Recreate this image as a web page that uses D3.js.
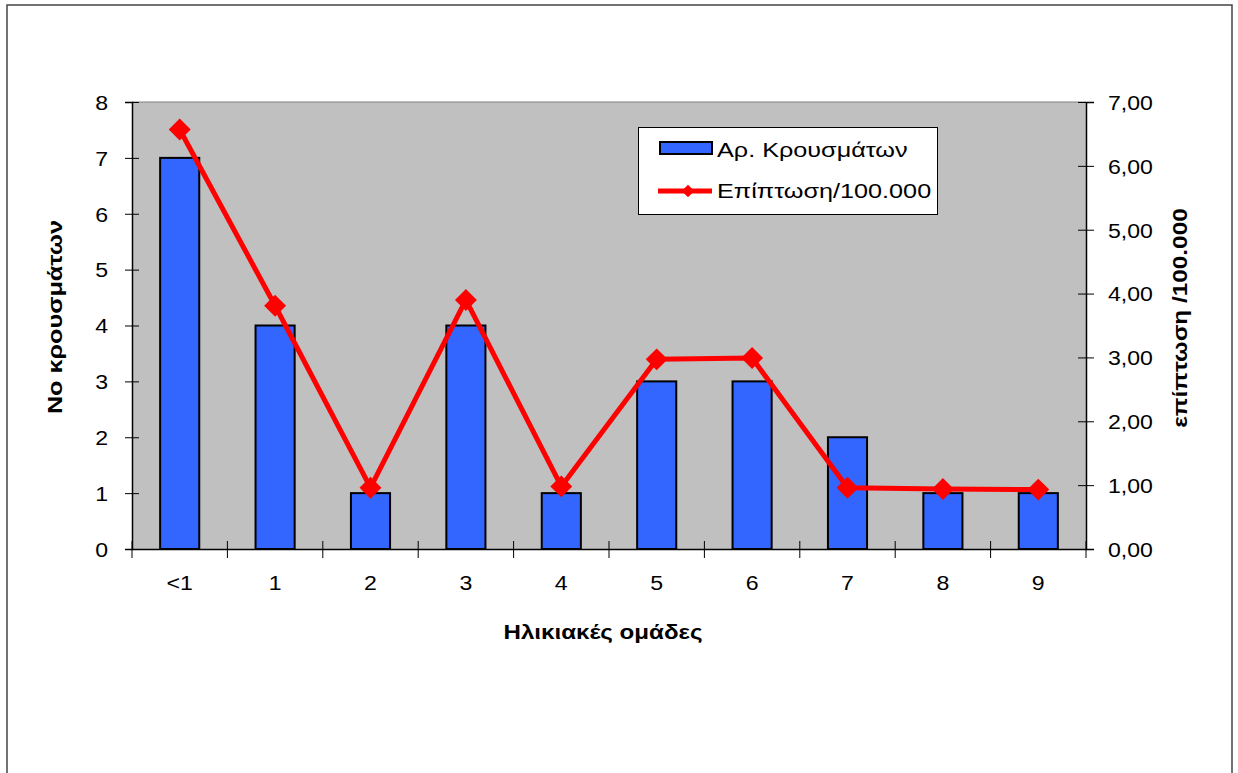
<!DOCTYPE html>
<html>
<head>
<meta charset="utf-8">
<script src="https://cdn.jsdelivr.net/npm/d3@7"></script>
<style>
  html, body { margin: 0; padding: 0; background: #fff; }
  svg { display: block; }
  text { font-family: "Liberation Sans", Arial, sans-serif; fill: #000; }
</style>
</head>
<body>
<svg id="chart" width="1238" height="773"></svg>
<script>
// Age groups and their case counts / incidence per 100,000
const categories = ["<1", "1", "2", "3", "4", "5", "6", "7", "8", "9"];
const cases = [7, 4, 1, 4, 1, 3, 3, 2, 1, 1];
const incidence = [6.57, 3.81, 0.96, 3.90, 0.98, 2.97, 2.99, 0.96, 0.94, 0.93];
const leftTicks = [0, 1, 2, 3, 4, 5, 6, 7, 8];
const rightTicks = [0, 1, 2, 3, 4, 5, 6, 7];

const svg = d3.select("#chart");
const plot = { left: 132, right: 1086, top: 102, bottom: 549 };

// widen glyphs along the text direction, keeping the anchor point fixed
function widen(sel, sx) {
  sel.each(function () {
    const t = d3.select(this);
    const x = +t.attr("x") || 0, y = +t.attr("y") || 0;
    const prev = t.attr("transform") || "";
    t.attr("x", 0).attr("y", 0)
      .attr("transform", `${prev} translate(${x},${y}) scale(${sx},1)`);
  });
}

// outer frame
svg.append("rect")
  .attr("x", 7).attr("y", 5)
  .attr("width", 1225).attr("height", 800)
  .attr("fill", "none").attr("stroke", "#444").attr("stroke-width", 1.5);

const x = d3.scaleBand().domain(categories)
  .range([plot.left, plot.right]).paddingInner(0.59).paddingOuter(0.295);
const xb = d3.scaleBand().domain(categories).range([plot.left, plot.right]);
const yL = d3.scaleLinear().domain([0, 8]).range([plot.bottom, plot.top]);
const yR = d3.scaleLinear().domain([0, 7]).range([plot.bottom, plot.top]);

// plot background
svg.append("rect")
  .attr("x", plot.left).attr("y", plot.top)
  .attr("width", plot.right - plot.left).attr("height", plot.bottom - plot.top)
  .attr("fill", "#C0C0C0");
svg.append("line")
  .attr("x1", plot.left).attr("x2", plot.right)
  .attr("y1", plot.top).attr("y2", plot.top)
  .attr("stroke", "#808080").attr("stroke-width", 1);

// bars
svg.append("g").selectAll("rect").data(cases).join("rect")
  .attr("x", (d, i) => x(categories[i]))
  .attr("y", d => yL(d))
  .attr("width", x.bandwidth())
  .attr("height", d => yL(0) - yL(d))
  .attr("fill", "#3366FF").attr("stroke", "#000").attr("stroke-width", 2);

// left axis
const gL = svg.append("g").attr("transform", `translate(${plot.left},0)`)
  .call(d3.axisLeft(yL).tickValues(leftTicks).tickSize(7).tickPadding(17).tickFormat(d3.format("d")));
gL.selectAll(".tick line").attr("x1", 7).attr("stroke", "#000");
gL.select(".domain").attr("stroke", "#000").attr("stroke-width", 1.5);
gL.selectAll(".tick text").style("font-size", "21px").attr("dy", "0.35em").call(widen, 1.1);

// right axis
const fmtR = d => d3.format(".2f")(d).replace(".", ",");
const gR = svg.append("g").attr("transform", `translate(${plot.right},0)`)
  .call(d3.axisRight(yR).tickValues(rightTicks).tickSize(8).tickPadding(14).tickFormat(fmtR));
gR.selectAll(".tick line").attr("x1", -8).attr("stroke", "#000");
gR.select(".domain").attr("stroke", "#000").attr("stroke-width", 1.5);
gR.selectAll(".tick text").style("font-size", "21px").attr("dy", "0.35em").call(widen, 1.1);

// bottom axis with ticks at category boundaries
const gB = svg.append("g").attr("transform", `translate(0,${plot.bottom})`)
  .call(d3.axisBottom(x).tickSize(0).tickPadding(26));
gB.select(".domain").attr("stroke", "#000").attr("stroke-width", 1.5);
gB.selectAll(".tick text").style("font-size", "21px").call(widen, 1.1);
const bounds = categories.map(c => xb(c)).concat([plot.right]);
gB.append("g").selectAll("line").data(bounds).join("line")
  .attr("x1", d => d).attr("x2", d => d)
  .attr("y1", -8).attr("y2", 9)
  .attr("stroke", "#000").attr("stroke-width", 1);

// incidence line
const line = d3.line()
  .x((d, i) => x(categories[i]) + x.bandwidth() / 2)
  .y(d => yR(d));
svg.append("path").datum(incidence)
  .attr("d", line).attr("fill", "none")
  .attr("stroke", "#FF0000").attr("stroke-width", 5).attr("stroke-linejoin", "round");
const diamond = d3.symbol().type(d3.symbolSquare).size(240);
svg.append("g").selectAll("path").data(incidence).join("path")
  .attr("d", diamond)
  .attr("transform", (d, i) => `translate(${x(categories[i]) + x.bandwidth() / 2},${yR(d)}) rotate(45)`)
  .attr("fill", "#FF0000");

// axis titles
svg.append("text")
  .attr("transform", "translate(62,317) rotate(-90)")
  .attr("text-anchor", "middle")
  .style("font-size", "21px").style("font-weight", "bold")
  .text("Νο κρουσμάτων").call(widen, 1.2);
svg.append("text")
  .attr("transform", "translate(1187,318) rotate(-90)")
  .attr("text-anchor", "middle")
  .style("font-size", "21px").style("font-weight", "bold")
  .text("επίπτωση /100.000").call(widen, 1.16);
svg.append("text")
  .attr("x", 603).attr("y", 639)
  .attr("text-anchor", "middle")
  .style("font-size", "21px").style("font-weight", "bold")
  .text("Ηλικιακές ομάδες").call(widen, 1.15);

// legend
const lg = svg.append("g");
lg.append("rect")
  .attr("x", 638.5).attr("y", 127.5).attr("width", 299).attr("height", 87)
  .attr("fill", "#fff").attr("stroke", "#000").attr("stroke-width", 1);
lg.append("rect")
  .attr("x", 660).attr("y", 142).attr("width", 52).attr("height", 12)
  .attr("fill", "#3366FF").attr("stroke", "#000").attr("stroke-width", 2);
lg.append("text").attr("x", 717).attr("y", 157)
  .style("font-size", "20.5px").text("Αρ. Κρουσμάτων").call(widen, 1.23);
lg.append("line")
  .attr("x1", 658).attr("x2", 712).attr("y1", 191).attr("y2", 191)
  .attr("stroke", "#FF0000").attr("stroke-width", 5);
lg.append("path").attr("d", d3.symbol().type(d3.symbolSquare).size(80))
  .attr("transform", "translate(688,191) rotate(45)")
  .attr("fill", "#FF0000");
lg.append("text").attr("x", 717).attr("y", 198)
  .style("font-size", "20.5px").text("Επίπτωση/100.000").call(widen, 1.23);
</script>
</body>
</html>
